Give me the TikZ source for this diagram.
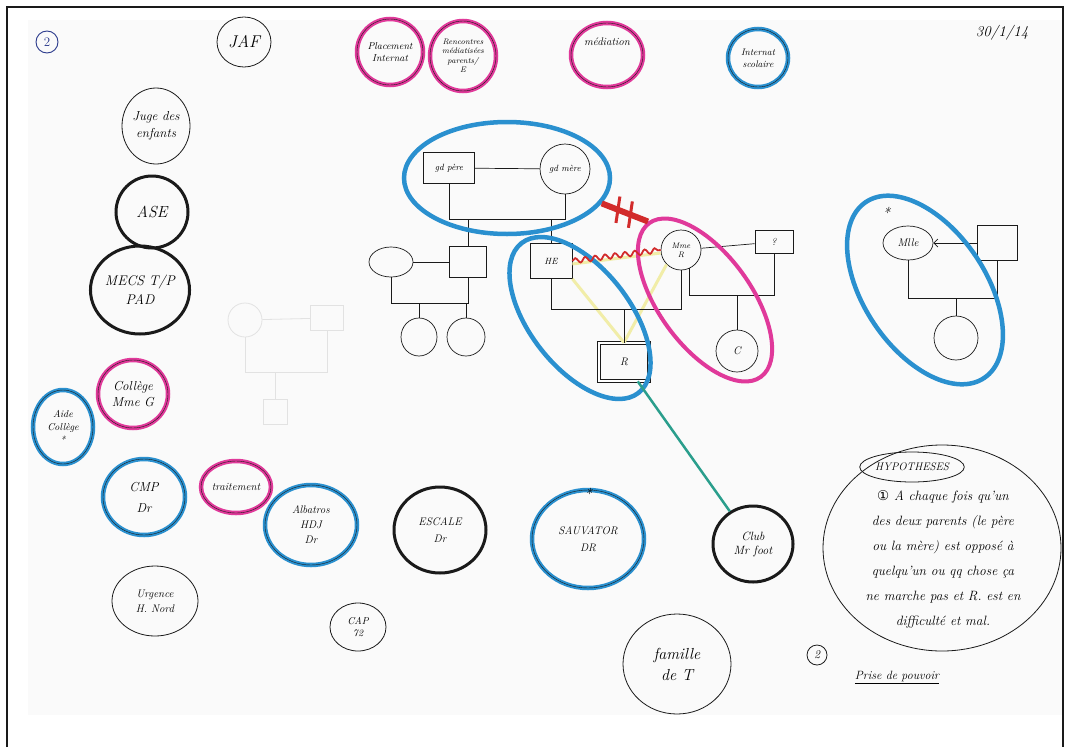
\documentclass[tikz,border=0pt]{standalone}
\usepackage{fontspec}
\newfontfamily\symfont{DejaVu Sans}
\usepackage{tikz}
\usetikzlibrary{shapes.geometric, decorations.pathmorphing, decorations.markings, arrows.meta}
\definecolor{Ink}{HTML}{1A1A1A}
\definecolor{Pen}{HTML}{2B3A8C}
\definecolor{Blue}{HTML}{2A90CF}
\definecolor{Pink}{HTML}{E0399A}
\definecolor{Red}{HTML}{D22B2B}
\definecolor{Teal}{HTML}{2A9E8C}
\definecolor{Straw}{HTML}{F1EDA8}
\definecolor{Ghost}{HTML}{E2E2E2}
\definecolor{Paper}{HTML}{FAFAFA}

\begin{document}
\begin{tikzpicture}[
  x=1pt, y=-1pt,
  font=\itshape,
  fs/.style 2 args={font=\itshape\fontsize{#1}{#2}\selectfont},
  kin/.style={draw=Ink, line width=0.7pt},
  sq/.style={kin, rectangle, inner sep=2pt, align=center},
  rd/.style={kin, ellipse, inner sep=1pt, align=center},
  ghost/.style={draw=Ghost, line width=0.8pt},
  tie/.style={draw=Straw, line width=3pt},
  conflict/.style={draw=Red, line width=1.8pt, decorate, decoration={snake, amplitude=2.5pt, segment length=10pt}},
  cutoff/.style={draw=Red, line width=6pt, postaction={decorate, decoration={markings,
      mark=at position .35 with {\draw[Red, line width=3pt] (-3,-13) -- (3,13);},
      mark=at position .62 with {\draw[Red, line width=3pt] (-3,-13) -- (3,13);}}}},
  link/.style={draw=Teal, line width=2.5pt},
  blueset/.style={draw=Blue, line width=4.5pt, ellipse, inner sep=0pt},
  pinkset/.style={draw=Pink, line width=4pt, ellipse, inner sep=0pt},
  plain/.style={draw=Ink, line width=0.8pt, ellipse, inner sep=0pt, align=center},
  strong/.style={plain, line width=3pt},
  pinkring/.style={plain, draw=Pink, line width=4.5pt, postaction={draw=Ink, line width=0.4pt}},
  bluering/.style={plain, draw=Blue, line width=4.5pt, postaction={draw=Ink, line width=0.4pt}}
]
\useasboundingbox (0,0) rectangle (1070,747);
\fill[Paper] (28,20) rectangle (1062,715);
\draw[Ink, line width=1.2pt] (7,747) -- (7,7) -- (1063,7) -- (1063,747);

% faint erased sketch
\node[ghost, circle, minimum size=34pt] (ghostf) at (245,320) {};
\node[ghost, rectangle, minimum width=33pt, minimum height=25pt] (ghostm) at (327,318) {};
\node[ghost, rectangle, minimum width=24pt, minimum height=25pt] (ghostc) at (275,412) {};
\draw[ghost] (ghostf) -- (ghostm);
\draw[ghost] (ghostf.south) -- ++(0,35) coordinate (ghostunion) -| (ghostm.south);
\draw[ghost] (ghostc.north) -- (ghostc.north |- ghostunion);

% genogram
\node[sq, minimum width=51pt, minimum height=31pt, fs={9}{10}] (gdpere) at (449,168) {gd père};
\node[rd, minimum width=50pt, minimum height=50pt, fs={9}{10}] (gdmere) at (565,169) {gd mère};
\node[sq, minimum width=37pt, minimum height=31pt] (uncle) at (468,262) {};
\node[rd, minimum width=44pt, minimum height=30pt] (aunt) at (391,262) {};
\node[rd, minimum width=36pt, minimum height=38pt] (cousina) at (419,337) {};
\node[rd, minimum width=38pt, minimum height=38pt] (cousinb) at (466,337) {};
\node[sq, minimum width=42pt, minimum height=35pt, fs={9}{10}] (he) at (551,261) {HE};
\node[rd, minimum width=40pt, minimum height=40pt, fs={8}{9}] (mmer) at (681,250) {Mme\\R};
\node[sq, minimum width=38pt, minimum height=23pt, fs={10}{11}] (qm) at (774,242) {?};
\node[sq, minimum width=50pt, minimum height=38pt, double, double distance=2.5pt, fs={11}{12}] (r) at (624,362) {R};
\node[rd, minimum width=42pt, minimum height=42pt, fs={11}{12}] (childc) at (737,351) {C};
\node[rd, minimum width=50pt, minimum height=34pt, fs={11}{12},
      label={[label distance=6pt, fs={15}{15}]125:*}] (mlle) at (908,243) {Mlle};
\node[sq, minimum width=40pt, minimum height=35pt] (mllesq) at (997,243) {};
\node[rd, minimum width=44pt, minimum height=44pt] (mchild) at (956,338) {};

\draw[kin] (gdpere) -- (gdmere);
\draw[kin] (gdpere.south) -- ++(0,35) coordinate (gdunion) -| (gdmere.south);
\draw[kin] (uncle.north) -- (uncle.north |- gdunion);
\draw[kin] (he.north) -- (he.north |- gdunion);
\draw[kin] (aunt) -- (uncle);
\draw[kin] (aunt.south) -- ++(0,26) coordinate (auntunion) -| (uncle.south);
\draw[kin] (cousina.north) -- (cousina.north |- auntunion);
\draw[kin] (cousinb.north) -- (cousinb.north |- auntunion);
\draw[tie] (he.south east) -- (r.north);
\draw[tie] (mmer.south west) -- (r.north);
\draw[tie, transform canvas={yshift=-3pt}] (he.east) -- (mmer.west);
\draw[kin] (he.south) -- ++(0,30) coordinate (heunion) -| (mmer.south);
\draw[kin] (r.north) -- (r.north |- heunion);
\draw[kin] (mmer) -- (qm);
\draw[kin] (mmer.-65) -- ++(0,27) coordinate (qmunion) -| (qm.south);
\draw[kin] (childc.north) -- (childc.north |- qmunion);
\draw[kin, -{Straight Barb[length=4pt]}] (mllesq) -- (mlle);
\draw[kin] (mlle.south) -- ++(0,38) coordinate (mlleunion) -| (mllesq.south);
\draw[kin] (mchild.north) -- (mchild.north |- mlleunion);

% sub-systems
\node[blueset, minimum width=206pt, minimum height=112pt] (grandset) at (507,178) {};
\node[blueset, minimum width=190pt, minimum height=100pt, rotate=-52] (heset) at (580,318) {};
\node[pinkset, minimum width=190pt, minimum height=92pt, rotate=-54] (mmeset) at (705,300) {};
\node[blueset, minimum width=212pt, minimum height=122pt, rotate=-56] (mlleset) at (925,290) {};

\draw[conflict] (he.east) -- (mmer.west);
\draw[cutoff] (grandset.-15) -- (mmeset.west);

% ecomap
\node[draw=Pen, circle, line width=0.9pt, minimum size=22pt, font=\fontsize{13}{13}\selectfont, text=Pen] (pageno) at (47,42) {2};
\node[plain, minimum width=54pt, minimum height=50pt, fs={17}{18}] (jaf) at (244,42) {JAF};
\node[pinkring, minimum width=66pt, minimum height=66pt, fs={10}{12}] (placement) at (390,52) {Placement\\Internat};
\node[pinkring, minimum width=66pt, minimum height=70pt, fs={8}{9.5}] (rencontres) at (463,56) {Rencontres\\médiatisées\\parents/\\E};
\node[pinkring, minimum width=72pt, minimum height=64pt, fs={11}{13}] (mediation) at (607,55) {médiation\\[14pt]};
\node[bluering, minimum width=60pt, minimum height=58pt, fs={9.5}{12}] (internat) at (758,58) {Internat\\scolaire};
\node[fs={15}{15}] (date) at (1002,33) {30/1/14};

\node[plain, minimum width=68pt, minimum height=76pt, fs={13}{17}] (juge) at (156,126) {Juge des\\enfants};
\node[strong, minimum width=72pt, minimum height=72pt, fs={16}{16}] (ase) at (152,212) {ASE};
\node[strong, minimum width=98pt, minimum height=88pt, fs={14}{19}] (mecs) at (140,290) {MECS T/P\\PAD};
\node[pinkring, minimum width=70pt, minimum height=68pt, fs={13}{16}] (college) at (133,394) {Collège\\Mme G};
\node[bluering, minimum width=60pt, minimum height=74pt, fs={10}{13}] (aide) at (63,427) {Aide\\Collège\\*};
\node[bluering, minimum width=82pt, minimum height=76pt, fs={13}{21}] (cmp) at (144,497) {CMP\\Dr};
\node[pinkring, minimum width=70pt, minimum height=52pt, fs={11}{12}] (traitement) at (236,487) {traitement};
\node[bluering, minimum width=92pt, minimum height=80pt, fs={11}{15}] (albatros) at (311,525) {Albatros\\HDJ\\Dr};
\node[plain, minimum width=86pt, minimum height=70pt, fs={11}{15}] (urgence) at (155,601) {Urgence\\H. Nord};
\node[plain, minimum width=56pt, minimum height=48pt, fs={10}{12}] (cap) at (358,627) {CAP\\72};
\node[strong, minimum width=92pt, minimum height=86pt, fs={11}{17}] (escale) at (440,530) {ESCALE\\Dr};
\node[bluering, minimum width=112pt, minimum height=98pt, fs={11}{17},
      label={[label distance=-15pt, fs={15}{15}]90:*}] (sauvator) at (588,539) {SAUVATOR\\DR};
\node[strong, minimum width=80pt, minimum height=76pt, fs={12}{14}] (club) at (753,544) {Club\\Mr foot};
\node[plain, minimum width=108pt, minimum height=100pt, fs={16}{21}] (famille) at (677,664) {famille\\de T};

\draw[link] (r) -- (club);

% hypotheses
\node[plain, minimum width=238pt, minimum height=206pt] (hypset) at (942,548) {};
\node[plain, minimum width=100pt, minimum height=30pt, fs={11}{12}] (hyptitle) at (912,467) {HYPOTHESES};
\node[fs={13.5}{25}, align=center] (hyptext) at (943,559) {{\symfont\upshape ①} A chaque fois qu'un\\
  des deux parents (le père\\ ou la mère) est opposé à\\ quelqu'un ou qq chose ça\\
  ne marche pas et R. est en\\ difficulté et mal.};
\node[draw=Ink, circle, line width=0.8pt, minimum size=20pt, fs={12}{12}] (hypnext) at (817,655) {2};
\node[fs={12}{13}] (prise) at (897,677) {\underline{Prise de pouvoir}};
\end{tikzpicture}
\end{document}
